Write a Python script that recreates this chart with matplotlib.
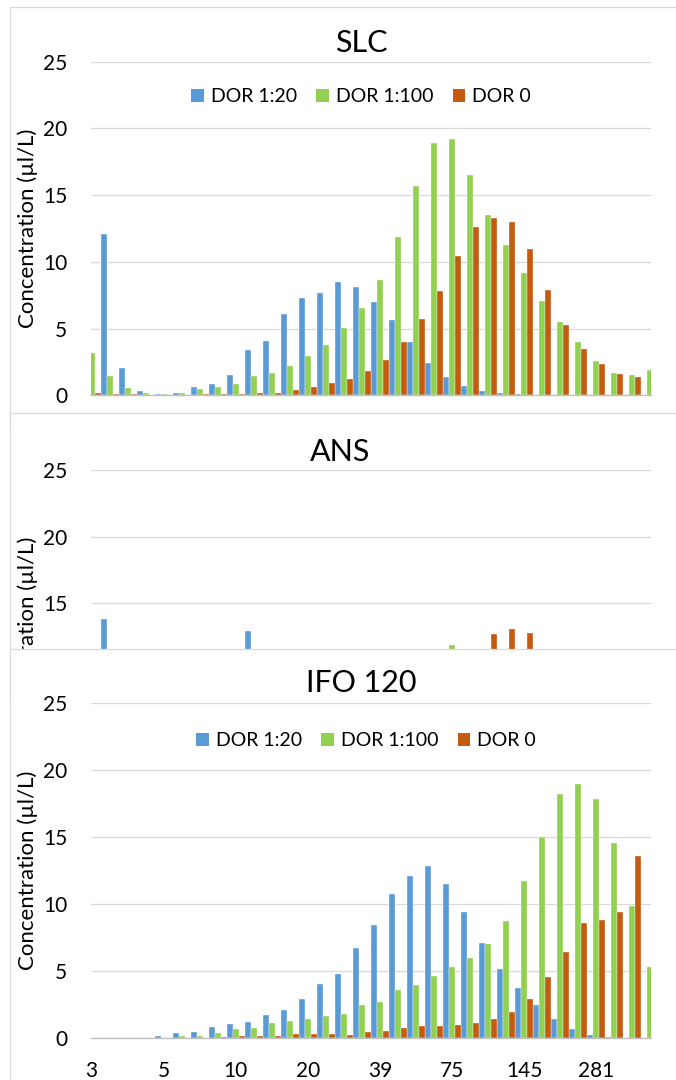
import numpy as np
import matplotlib
matplotlib.use("Agg")
import matplotlib.pyplot as plt
from matplotlib.patches import Patch, Rectangle

plt.rcParams["font.family"] = ["Lato", "DejaVu Sans"]

W, H = 676, 1080

# 32 particle size bins, every 4th one is labelled
n_bins = 32
size_labels = ["3", "5", "10", "20", "39", "75", "145", "281"]
series_names = ["DOR 1:20", "DOR 1:100", "DOR 0"]
colors = ["#5B9BD5", "#92D050", "#C55A11"]

# SLC
slc_dor20 = [0, 12.07, 2.07, 0.32, 0.12, 0.2, 0.65, 0.87, 1.55, 3.42, 4.1, 6.1, 7.32, 7.65, 8.47, 8.12,
             7.02, 5.65, 3.97, 2.4, 1.35, 0.67, 0.32, 0.15, 0.07, 0.03, 0, 0, 0, 0, 0, 0]
slc_dor100 = [3.2, 1.45, 0.57, 0.2, 0.12, 0.2, 0.45, 0.62, 0.87, 1.42, 1.65, 2.2, 2.92, 3.8, 5.02, 6.55,
              8.65, 11.84, 15.69, 18.89, 19.24, 16.49, 13.54, 11.27, 9.15, 7.07, 5.5, 4.0, 2.57, 1.65, 1.5, 1.9]
slc_dor0 = [0.2, 0.12, 0.07, 0.03, 0.02, 0.03, 0.1, 0.1, 0.1, 0.15, 0.2, 0.4, 0.65, 0.9, 1.22, 1.82,
            2.62, 3.97, 5.72, 7.82, 10.44, 12.64, 13.32, 12.97, 10.94, 7.87, 5.25, 3.47, 2.37, 1.62, 1.37, 0]

# ANS - only the tops of a few bars are visible, the rest is under the IFO panel
nan = np.nan
ans_dor20 = [nan, 13.8, nan, nan, nan, nan, nan, nan, nan, 12.93, nan, nan, nan, nan, nan, nan,
             nan, nan, nan, nan, nan, nan, nan, nan, nan, nan, nan, nan, nan, nan, nan, nan]
ans_dor100 = [nan, nan, nan, nan, nan, nan, nan, nan, nan, nan, nan, nan, nan, nan, nan, nan,
              nan, nan, nan, nan, 11.89, nan, nan, nan, nan, nan, nan, nan, nan, nan, nan, nan]
ans_dor0 = [nan, nan, nan, nan, nan, nan, nan, nan, nan, nan, nan, nan, nan, nan, nan, nan,
            nan, nan, nan, nan, nan, nan, 12.69, 13.11, 12.76, nan, nan, nan, nan, nan, nan, nan]

# IFO 120
ifo_dor20 = [0, 0, 0, 0, 0.12, 0.32, 0.42, 0.77, 1.02, 1.15, 1.67, 2.07, 2.87, 4.04, 4.77, 6.71,
             8.45, 10.72, 12.07, 12.87, 11.47, 9.43, 7.06, 5.14, 3.69, 2.44, 1.42, 0.62, 0.22, 0.05, 0, 0]
ifo_dor100 = [0, 0, 0, 0, 0, 0.12, 0.15, 0.35, 0.62, 0.75, 1.1, 1.25, 1.42, 1.65, 1.75, 2.44,
              2.69, 3.57, 3.92, 4.61, 5.29, 5.96, 7.01, 8.7, 11.72, 14.99, 18.2, 18.93, 17.86, 14.56, 9.85, 5.29]
ifo_dor0 = [0, 0, 0, 0, 0, 0, 0, 0.07, 0.1, 0.15, 0.15, 0.27, 0.27, 0.27, 0.2, 0.4,
            0.5, 0.72, 0.85, 0.87, 0.97, 1.07, 1.37, 1.9, 2.89, 4.51, 6.41, 8.58, 8.8, 9.4, 13.59, 0]

GRID = "#D9D9D9"

fig = plt.figure(figsize=(W / 100, H / 100), dpi=100)


def px_rect(left, top, right, bottom):
    return [left / W, 1 - bottom / H, (right - left) / W, (bottom - top) / H]


def frame(z, top, bottom):
    # white chart-area box, later panels are drawn over earlier ones
    fig.add_artist(Rectangle((9.5 / W, 1 - bottom / H), 1.1, (bottom - top) / H,
                             transform=fig.transFigure, facecolor="white",
                             edgecolor=GRID, lw=0.9, zorder=z))


def chart(z, top, bottom, title, title_xy, series, legend_xy=None):
    ax = fig.add_axes(px_rect(91, top, 651, bottom), zorder=z)
    ax.patch.set_visible(False)
    x = np.arange(n_bins)
    for k, vals in enumerate(series):
        ax.bar(x + (k - 1) / 3, vals, width=1 / 3, color=colors[k],
               edgecolor="white", linewidth=0.25)
    ax.set_xlim(-0.03, 31.03)
    ax.set_ylim(0, 25)
    ax.set_yticks(range(0, 26, 5))
    ax.set_xticks(range(0, n_bins, 4))
    ax.set_xticklabels(size_labels)
    ax.grid(axis="y", color=GRID, lw=0.9)
    ax.set_axisbelow(True)
    for s in ["top", "right", "left"]:
        ax.spines[s].set_visible(False)
    ax.spines["bottom"].set_color("#BFBFBF")
    ax.spines["bottom"].set_linewidth(1.0)
    ax.tick_params(axis="y", length=0, pad=17, labelsize=15)
    ax.tick_params(axis="x", length=0, pad=17, labelsize=15)
    ax.set_ylabel("Concentration (µl/L)", fontsize=16, va="center")
    ax.yaxis.set_label_coords((28 - 91) / 560, 0.5)
    ax.text(title_xy[0] / W, 1 - title_xy[1] / H, title, transform=fig.transFigure,
            ha="center", va="center", fontsize=22)
    if legend_xy is not None:
        handles = [Patch(facecolor=c) for c in colors]
        ax.legend(handles, series_names, loc="center",
                  bbox_to_anchor=(legend_xy[0] / W, 1 - legend_xy[1] / H),
                  bbox_transform=fig.transFigure, ncol=3, frameon=False,
                  fontsize=14, handlelength=0.65, handleheight=0.65,
                  handletextpad=0.35, columnspacing=1.0)
    return ax


frame(1, 7, 430)
chart(2, 61.7, 395.3, "SLC", (361, 43), [slc_dor20, slc_dor100, slc_dor0], (361, 97))

frame(3, 413, 700)
chart(4, 470, 803.5, "ANS", (340, 452), [ans_dor20, ans_dor100, ans_dor0])

frame(5, 649, 1100)
chart(6, 703.3, 1037.7, "IFO 120", (361, 683), [ifo_dor20, ifo_dor100, ifo_dor0], (366, 741))

fig.savefig("out.png", dpi=100)
